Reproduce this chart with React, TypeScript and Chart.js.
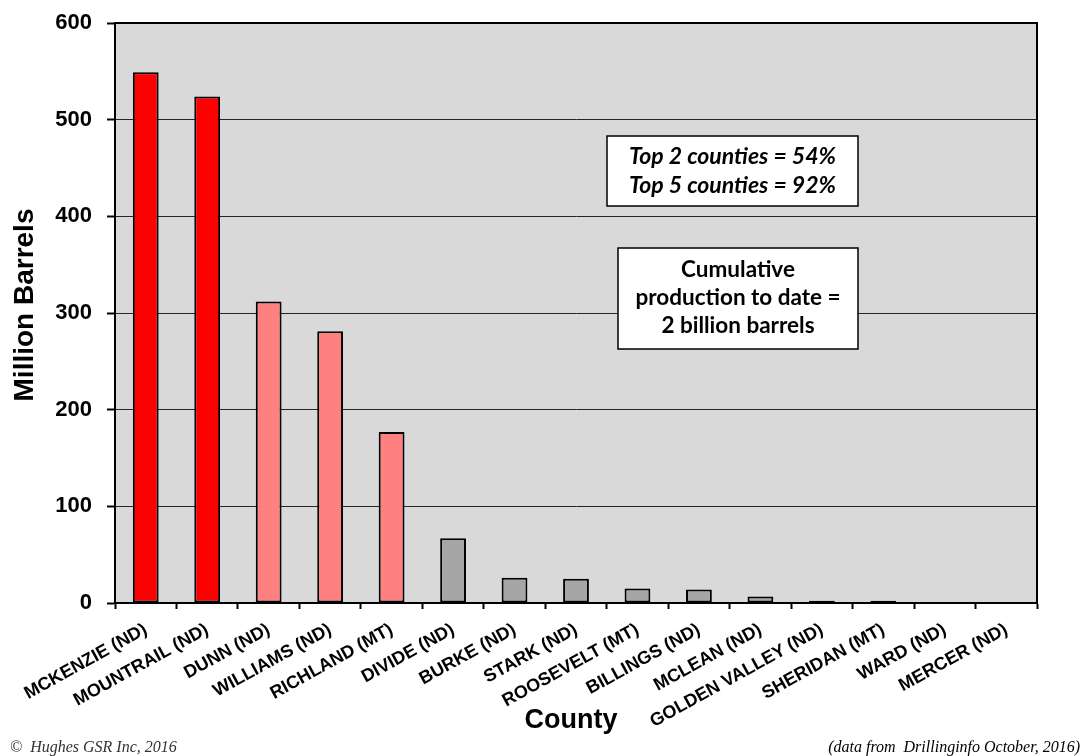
import React, { useEffect, useRef } from "react";
import { Chart, registerables } from "chart.js";

Chart.register(...registerables);

const counties = [
  "MCKENZIE (ND)",
  "MOUNTRAIL (ND)",
  "DUNN (ND)",
  "WILLIAMS (ND)",
  "RICHLAND (MT)",
  "DIVIDE (ND)",
  "BURKE (ND)",
  "STARK (ND)",
  "ROOSEVELT (MT)",
  "BILLINGS (ND)",
  "MCLEAN (ND)",
  "GOLDEN VALLEY (ND)",
  "SHERIDAN (MT)",
  "WARD (ND)",
  "MERCER (ND)",
];

const productionMillionBarrels = [549, 524, 312, 281, 177, 67, 26, 25, 15, 14, 6.8, 2.4, 2.3, 0.8, 0.6];

const barColors = [
  "#FF0000", "#FF0000",
  "#FF8080", "#FF8080", "#FF8080",
  "#A6A6A6", "#A6A6A6", "#A6A6A6", "#A6A6A6", "#A6A6A6",
  "#A6A6A6", "#A6A6A6", "#A6A6A6", "#A6A6A6", "#A6A6A6",
];

const yTicks = [0, 100, 200, 300, 400, 500, 600];

const box1Lines = ["Top 2 counties = 54%", "Top 5 counties = 92%"];
const box2Lines = ["Cumulative", "production to date =", "2 billion barrels"];
const yTitle = "Million Barrels";
const xTitle = "County";
const footLeft = "©  Hughes GSR Inc, 2016";
const footRight = "(data from  Drillinginfo October, 2016)";

const ARIAL = "'Liberation Sans', Arial, sans-serif";
const CALIBRI = "Lato, 'Open Sans', sans-serif";
const TIMES = "'Liberation Serif', 'Times New Roman', serif";

const decorPlugin = {
  id: "decor",
  beforeDraw(chart: any) {
    const { ctx, chartArea: a, width, height } = chart;
    ctx.save();
    ctx.fillStyle = "#FFFFFF";
    ctx.fillRect(0, 0, width, height);
    ctx.fillStyle = "#D9D9D9";
    ctx.fillRect(a.left, a.top, a.right - a.left, a.bottom - a.top);
    ctx.restore();
  },
  afterDraw(chart: any) {
    const { ctx, chartArea: a } = chart;
    ctx.save();
    // plot frame
    ctx.strokeStyle = "#000";
    ctx.lineWidth = 2;
    ctx.strokeRect(a.left, a.top, a.right - a.left, a.bottom - a.top);

    const drawBox = (x: number, y: number, w: number, h: number) => {
      ctx.fillStyle = "#FFFFFF";
      ctx.fillRect(x, y, w, h);
      ctx.strokeStyle = "#000";
      ctx.lineWidth = 1.5;
      ctx.strokeRect(x, y, w, h);
    };
    drawBox(607, 136, 251, 70);
    ctx.fillStyle = "#000";
    ctx.textAlign = "center";
    ctx.textBaseline = "alphabetic";
    ctx.font = `italic bold 23px ${CALIBRI}`;
    ctx.fillText(box1Lines[0], 732.5, 164);
    ctx.fillText(box1Lines[1], 732.5, 193);

    drawBox(618, 248, 240, 101);
    ctx.fillStyle = "#000";
    ctx.font = `bold 22.5px ${CALIBRI}`;
    ctx.fillText(box2Lines[0], 738, 277);
    ctx.fillText(box2Lines[1], 738, 305);
    ctx.fillText(box2Lines[2], 738, 333);

    // axis titles
    ctx.font = `bold 27px ${ARIAL}`;
    ctx.fillText(xTitle, 571, 728);
    ctx.save();
    ctx.translate(33, 305);
    ctx.rotate(-Math.PI / 2);
    ctx.font = `bold 28px ${ARIAL}`;
    ctx.fillText(yTitle, 0, 0);
    ctx.restore();

    // footers
    ctx.font = `italic 16px ${TIMES}`;
    ctx.fillStyle = "#333";
    ctx.textAlign = "left";
    ctx.fillText(footLeft, 10, 752);
    ctx.textAlign = "right";
    ctx.fillStyle = "#000";
    ctx.fillText(footRight, 1080, 752);
    ctx.restore();
  },
};

export default function App() {
  const ref = useRef<HTMLCanvasElement | null>(null);

  useEffect(() => {
    if (!ref.current) return;
    const chart = new Chart(ref.current, {
      type: "bar",
      data: {
        labels: counties,
        datasets: [
          {
            data: productionMillionBarrels,
            backgroundColor: barColors,
            borderColor: "#000",
            borderWidth: 2,
            borderSkipped: false,
            categoryPercentage: 1,
            barPercentage: 0.42,
          },
        ],
      },
      options: {
        responsive: false,
        animation: false,
        layout: { padding: { top: 23, right: 47, left: 0, bottom: 0 } },
        plugins: {
          legend: { display: false },
          tooltip: { enabled: false },
          title: { display: false },
        },
        scales: {
          x: {
            offset: true,
            afterFit(scale: any) {
              scale.height = 153;
            },
            grid: {
              offset: true,
              drawOnChartArea: false,
              drawTicks: true,
              tickLength: 6,
              tickColor: "#000",
              tickWidth: 2,
            },
            border: { display: true, color: "#000", width: 2 },
            ticks: {
              autoSkip: false,
              maxRotation: 29,
              minRotation: 29,
              padding: 10,
              color: "#000",
              font: { family: ARIAL, size: 18, weight: "bold" },
            },
          },
          y: {
            min: 0,
            max: 600,
            afterFit(scale: any) {
              scale.width = 115;
              scale.paddingTop = 0;
              scale.paddingBottom = 0;
            },
            afterBuildTicks(scale: any) {
              scale.ticks = yTicks.map((v) => ({ value: v }));
            },
            grid: {
              color: "#262626",
              lineWidth: 1,
              drawTicks: true,
              tickLength: 8,
              tickColor: "#000",
              tickWidth: 2,
            },
            border: { display: true, color: "#000", width: 2 },
            ticks: {
              padding: 15,
              color: "#000",
              font: { family: ARIAL, size: 22, weight: "bold" },
            },
          },
        },
      },
      plugins: [decorPlugin],
    } as any);
    return () => chart.destroy();
  }, []);

  return (
    <div style={{ position: "fixed", left: 0, top: 0, width: 1084, height: 756, background: "#fff" }}>
      <canvas ref={ref} width={1084} height={756} />
    </div>
  );
}
